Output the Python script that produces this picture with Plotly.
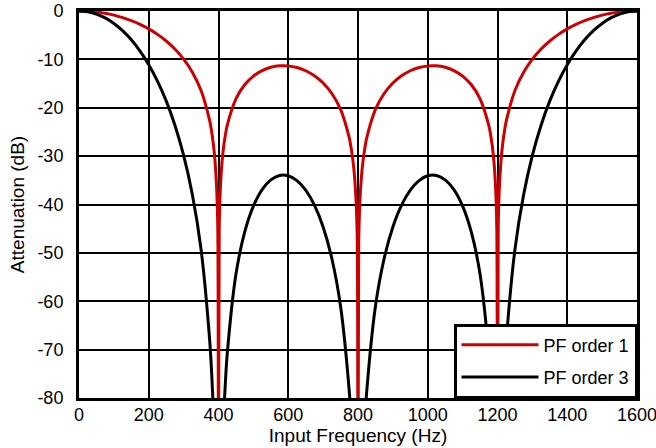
import plotly.graph_objects as go

# ── Data ──────────────────────────────────────────────────────────────────────
freq_hz = [
    0, 25, 50, 75, 100, 125, 150, 175, 200, 225, 250, 275, 300, 325, 350, 375,
    380, 385, 390, 395, 398, 400, 402, 405, 410, 415, 420, 425,
    450, 475, 500, 525, 550, 575, 600, 625, 650, 675, 700, 725, 750, 775,
    780, 785, 790, 795, 798, 800, 802, 805, 810, 815, 820, 825,
    850, 875, 900, 925, 950, 975, 1000, 1025, 1050, 1075, 1100, 1125, 1150, 1175,
    1180, 1185, 1190, 1195, 1198, 1200, 1202, 1205, 1210, 1215, 1220, 1225,
    1250, 1275, 1300, 1325, 1350, 1375, 1400, 1425, 1450, 1475, 1500, 1525, 1550, 1575, 1600,
]

pf_order1_db = [
    0, -0.05, -0.21, -0.48, -0.86, -1.36, -1.99, -2.76, -3.70, -4.83, -6.20, -7.87, -9.95, -12.65, -16.43, -22.78,
    -24.79, -27.36, -30.96, -37.07, -45.08, -120, -45.14, -37.24, -31.31, -27.88, -25.47, -23.63,
    -18.15, -15.24, -13.45, -12.31, -11.64, -11.33, -11.35, -11.69, -12.35, -13.38, -14.88, -17.05, -20.34, -26.23,
    -28.15, -30.63, -34.15, -40.16, -48.12, -120, -48.12, -40.16, -34.15, -30.63, -28.15, -26.23,
    -20.34, -17.05, -14.88, -13.38, -12.35, -11.69, -11.35, -11.33, -11.64, -12.31, -13.45, -15.24, -18.15, -23.63,
    -25.47, -27.88, -31.31, -37.24, -45.14, -120, -45.08, -37.07, -30.96, -27.36, -24.79, -22.78,
    -16.43, -12.65, -9.95, -7.87, -6.20, -4.83, -3.70, -2.76, -1.99, -1.36, -0.86, -0.48, -0.21, -0.05, 0,
]

pf_order3_db = [
    0, -0.16, -0.63, -1.43, -2.57, -4.07, -5.96, -8.28, -11.09, -14.49, -18.59, -23.60, -29.84, -37.94, -49.29, -68.33,
    -74.37, -82.09, -92.89, -111.2, -135.2, -200, -135.4, -111.7, -93.92, -83.63, -76.42, -70.90,
    -54.44, -45.73, -40.35, -36.93, -34.91, -34.00, -34.06, -35.06, -37.04, -40.14, -44.65, -51.16, -61.03, -78.68,
    -84.44, -91.89, -102.4, -120.5, -144.4, -200, -144.4, -120.5, -102.4, -91.89, -84.44, -78.68,
    -61.03, -51.16, -44.65, -40.14, -37.04, -35.06, -34.06, -34.00, -34.91, -36.93, -40.35, -45.73, -54.44, -70.90,
    -76.42, -83.63, -93.92, -111.7, -135.4, -200, -135.2, -111.2, -92.89, -82.09, -74.37, -68.33,
    -49.29, -37.94, -29.84, -23.60, -18.59, -14.49, -11.09, -8.28, -5.96, -4.07, -2.57, -1.43, -0.63, -0.16, 0,
]

x_ticks = [0, 200, 400, 600, 800, 1000, 1200, 1400, 1600]
y_ticks = [0, -10, -20, -30, -40, -50, -60, -70, -80]
y_tick_text = ["0", "-10", "-20", "-30", "-40", "-50", "-60", "-70", "-80"]

# ── Style ─────────────────────────────────────────────────────────────────────
_RED   = "#CC0000"
_BLACK = "#000000"
_FAMILY = "Arial, 'Liberation Sans', sans-serif"
_TICK_FONT  = dict(family=_FAMILY, size=18, color=_BLACK)
_TITLE_FONT = dict(family=_FAMILY, size=19, color=_BLACK)

fig = go.Figure()

fig.add_trace(go.Scatter(
    name="PF order 1",
    x=freq_hz, y=pf_order1_db,
    mode="lines",
    line=dict(color=_RED, width=3, shape="spline", smoothing=0.8),
    legendgroup="a",
))

fig.add_trace(go.Scatter(
    name="PF order 3",
    x=freq_hz, y=pf_order3_db,
    mode="lines",
    line=dict(color=_BLACK, width=3, shape="spline", smoothing=0.8),
    legendgroup="b",
))

axis_common = dict(
    showline=True, linecolor=_BLACK, linewidth=3, mirror=True,
    showgrid=True, gridcolor=_BLACK, gridwidth=1.5,
    zeroline=False, ticks="", tickfont=_TICK_FONT, automargin=False,
    ticklabeloverflow="allow",
)

fig.update_layout(
    width=656, height=448,
    font=_TICK_FONT,
    plot_bgcolor="white",
    paper_bgcolor="white",
    margin=dict(l=79, r=19, t=11, b=50),
    xaxis=dict(
        range=[0, 1600], tickvals=x_ticks,
        title=dict(text="Input Frequency (Hz)", standoff=6, font=_TITLE_FONT),
        ticklabelstandoff=-2,
        **axis_common,
    ),
    yaxis=dict(
        range=[-80, 0], tickvals=y_ticks, ticktext=y_tick_text,
        title=dict(text="Attenuation (dB)", standoff=8, font=_TITLE_FONT),
        ticklabelstandoff=9,
        **axis_common,
    ),
    legend=dict(
        x=1, y=0, xanchor="right", yanchor="bottom",
        bgcolor="white", bordercolor=_BLACK, borderwidth=2.5,
        font=_TICK_FONT, itemwidth=77,
        traceorder="grouped", tracegroupgap=6,
    ),
)

# drop the page's default body margin so the figure sits at the window corner
fig.write_html(
    "out.html",
    config={"displayModeBar": False},
    post_script="document.body.style.margin = '0px';",
)
